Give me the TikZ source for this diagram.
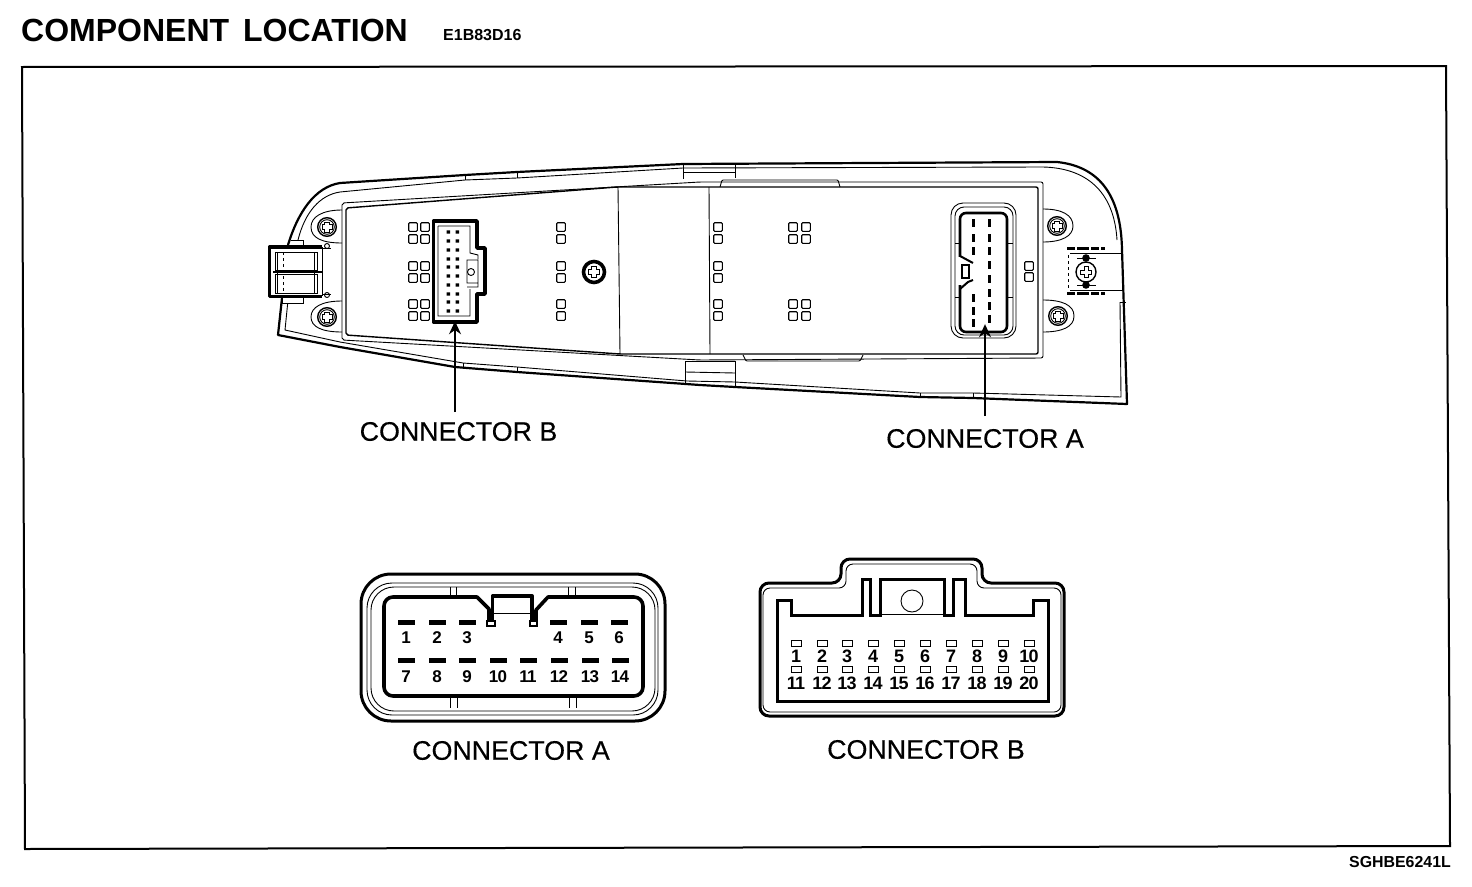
\documentclass[tikz,border=0pt]{standalone}
\usepackage{fontspec}
\setmainfont{Liberation Sans}
\newfontfamily\lblfont[FakeBold=0.35]{Liberation Sans}
\newfontfamily\numfont[LetterSpace=-4]{Liberation Sans}
\usetikzlibrary{arrows.meta}
\tikzset{
  x=1pt,y=-1pt,
  thinl/.style={line width=0.9pt,black},
  medl/.style={line width=1.4pt,black},
  thickl/.style={line width=2.8pt,black},
  heavy/.style={line width=3.4pt,black,line join=round},
  lbl/.style={inner sep=0pt,font=\fontsize{26.8}{28}\selectfont\lblfont},
  numa/.style={inner sep=0pt,font=\fontsize{17}{18}\selectfont\numfont\bfseries},
  numb/.style={inner sep=0pt,font=\fontsize{18}{18}\selectfont\numfont\bfseries},
  lead/.style={line width=1.7pt,black,-{Stealth[length=13pt,width=12pt]}},
}
\newcommand{\screwmark}[2]{%
  \draw[medl] (#1,#2) circle[radius=9.3pt];
  \draw[thinl] (#1,#2) circle[radius=7.3pt];
  \draw[line width=6pt] (#1-5.5,#2) -- (#1+5.5,#2) (#1,#2-5.5) -- (#1,#2+5.5);
  \draw[line width=4pt,white] (#1-4.5,#2) -- (#1+4.5,#2) (#1,#2-4.5) -- (#1,#2+4.5);
}
\newcommand{\sq}[2]{\draw[line width=1.1pt,rounded corners=1pt] (#1-4.3,#2-4.3) rectangle (#1+4.3,#2+4.3);}
\begin{document}
\begin{tikzpicture}
\useasboundingbox (0,0) rectangle (1472,886);
\fill[white] (0,0) rectangle (1472,886);
% heading
\node[inner sep=0pt,anchor=west,font=\fontsize{32}{32}\selectfont\bfseries] (title) at (21,30) {COMPONENT\hspace{5pt} LOCATION};
\node[inner sep=0pt,anchor=west,font=\fontsize{16}{16}\selectfont\bfseries] (code) at (443,35) {E1B83D16};
\node[inner sep=0pt,anchor=east,font=\fontsize{15.9}{16}\selectfont\bfseries] (fig) at (1451,862) {SGHBE6241L};
% frame
\draw[line width=2pt,line join=miter] (22,67) -- (1446,66) -- (1450,846) -- (25,849) -- cycle;

% --- housing outer
\draw[line width=2.2pt,black,line join=round]
  (288,245) .. controls (298,212) and (315,187) .. (340,183)
  -- (465,175) -- (517,172) -- (683,164) -- (1057,162)
  .. controls (1095,166) and (1121,190) .. (1122,250)
  -- (1127,404) -- (973,398) -- (920,397) -- (735,387) -- (700,385) -- (517,372) -- (455,367) -- (340,347) -- (278,335) -- (282,298);
% housing inner line
\draw[thinl]
  (298,240) .. controls (305,212) and (320,195) .. (340,192)
  -- (465,180) -- (517,178) -- (683,168) -- (1043,167)
  .. controls (1085,168) and (1114,190) .. (1117,240);
\draw[thinl] (1120,302) -- (1121,397) -- (973,393) -- (920,393) -- (735,382) -- (687,381) -- (517,367) -- (463,363) -- (340,342) -- (285,330) -- (288,300);
\draw[thinl] (1120,302) -- (1126,302);
\draw[thinl] (973,393) -- (973,398) (920,393) -- (920,397);
% tabs
\draw[thinl] (465,175) -- (465,180) (517,172) -- (517,178);
\draw[thinl] (683,164) -- (683,179) (735,163) -- (735,178);
\draw[thinl] (683,172) -- (735,172);
\draw[thinl] (463,363) -- (463,367) (517,367) -- (517,372);
\draw[thinl] (685,361) -- (735,361) -- (735,386);
\draw[thinl] (685,361) -- (685,384);
\draw[thinl] (685,372) -- (735,373);
% plate outer & inner
\draw[thinl,rounded corners=2pt] (342,203) -- (700,182) -- (1043,182) -- (1043,358) -- (700,360) -- (342,340) -- cycle;
\draw[medl,rounded corners=2pt] (346,208) -- (617,187) -- (1038,187) -- (1038,354) -- (620,354) -- (346,335) -- cycle;
\draw[thinl] (618,187) -- (620,354) (709,187) -- (710,354);
% slots
\draw[thinl,rounded corners=1pt] (720,187) -- (722,180) -- (838,180) -- (840,187);
\draw[thinl,rounded corners=1pt] (743,355) -- (746,361) -- (860,361) -- (863,355);
% screw bosses
\draw[thinl] (342,210) .. controls (322,210) and (311,217) .. (311,227) .. controls (311,238) and (322,243) .. (342,243);
\draw[thinl] (342,301) .. controls (322,301) and (311,307) .. (311,317) .. controls (311,327) and (322,332) .. (342,332);
\draw[thinl] (1043,209) .. controls (1062,209) and (1073,215) .. (1073,226) .. controls (1073,236) and (1062,242) .. (1043,242);
\draw[thinl] (1043,300) .. controls (1062,300) and (1074,305) .. (1074,316) .. controls (1074,327) and (1062,332) .. (1043,332);
\screwmark{327}{227}
\screwmark{327}{317}
\screwmark{1057}{226}
\screwmark{1058}{316}
\draw[line width=3.6pt] (594,272) circle[radius=10.5pt];
\draw[line width=6.5pt] (588,272) -- (600,272) (594,266) -- (594,278);
\draw[line width=4pt,white] (589,272) -- (599,272) (594,267) -- (594,277);
% left clip
\draw[thinl,fill=white] (282,298) -- (282,303) -- (303,303) -- (303,297);
\draw[thinl] (291,240) -- (303,240) -- (303,246);
\draw[heavy,fill=white] (322,247) -- (269.5,247) -- (269.5,296.5) -- (322,296.5);
\draw[thinl] (322,247) -- (322,296);
\draw[thinl] (275,252) rectangle (317,270);
\draw[thinl] (275,274) rectangle (317,293);
\draw[line width=1.4pt] (273,272) -- (322,272);
\draw[thinl,dashed] (283,252) -- (283,293);
\draw[thinl] (277,252) -- (277,293) (314,252) -- (314,293);
\draw[thinl] (322,248) -- (331,248) (322,294) -- (331,294);
\draw[thinl] (327,246) circle[radius=2.5pt] (327,295) circle[radius=2.5pt];
% right bracket
\draw[thinl] (1070,253) -- (1122,253) -- (1122,290) -- (1070,290);
\draw[line width=3pt,dash pattern=on 8pt off 2pt on 12pt off 2pt] (1067,248) -- (1105,248) (1067,293) -- (1105,293);
\draw[thinl,dashed] (1068,255) -- (1068,290);
\draw[medl] (1086,272) circle[radius=10pt];
\draw[thinl] (1077,258) -- (1096,258) (1077,285) -- (1096,285);
\fill (1086,258) circle[radius=3.8pt] (1086,285) circle[radius=3.8pt];
\draw[line width=5pt] (1080,272) -- (1092,272) (1086,266) -- (1086,278);
\draw[line width=3pt,white] (1081,272) -- (1091,272) (1086,267) -- (1086,277);
% square groups
\foreach \yy in {227,239,266,278,304,316} {\sq{413}{\yy}\sq{425}{\yy}\sq{561}{\yy}\sq{718}{\yy}}
\foreach \yy in {227,239,304,316} {\sq{793}{\yy}\sq{806}{\yy}}
\sq{1029}{266}\sq{1029}{277}
% connector B in housing
\node[inner sep=0pt,minimum size=0pt] (hubB) at (455,321) {};
\draw[heavy] (433.5,221) -- (477,221) -- (477,248) -- (485,248) -- (485,294) -- (477,294) -- (477,322) -- (433.5,322) -- cycle;
\draw[thinl] (438,226) -- (470,226) -- (470,253) -- (478,255) -- (478,259) (467,260) -- (478,260) -- (478,283) -- (467,283) -- cycle
  (467,260) (470,289) -- (470,316) -- (438,316) -- (438,226) (467,287) -- (478,287) -- (478,283);
\draw[thinl] (471,272) circle[radius=3.5pt];
\foreach \yy in {232,241,250,259,267,276,285,294,302,311} {\fill (446.5,\yy-1.7) rectangle (450,\yy+1.7) (455.5,\yy-1.7) rectangle (459,\yy+1.7);}
% connector A in housing
\node[inner sep=0pt,minimum size=0pt] (hubA) at (985,324) {};
\draw[thinl,rounded corners=12pt] (951,203) rectangle (1016,338);
\draw[thinl,rounded corners=9pt] (955,207) rectangle (1013,335);
\draw[line width=2.6pt,black,rounded corners=6pt] (960,213) -- (1007,213) -- (1007,332) -- (960,332) -- cycle;
\draw[fill=white,line width=2pt,draw=white] (958,258) rectangle (962,284);
\draw[line width=2pt] (960,256) -- (973,263) (960,289) -- (968,282) -- (973,280);
\draw[line width=1.6pt] (962,265) rectangle (969,278);
\draw[thinl] (955,243) -- (960,243) (1008,243) -- (1013,243) (955,297) -- (960,297) (1008,297) -- (1013,297);
\foreach \yy in {223,238,251,298,311,323} {\fill (971.5,\yy-4) rectangle (974.5,\yy+4);}
\foreach \yy in {223,238,251,265,279,293,306,319} {\fill (987.5,\yy-4) rectangle (990.5,\yy+4);}
% leaders
\coordinate (startB) at (455,412);
\coordinate (startA) at (985,416);
\draw[lead] (startB) -- (hubB);
\draw[lead] (startA) -- (hubA);
\node[lbl] (labB) at (458.5,431.5) {CONNECTOR B};
\node[lbl] (labA) at (985,438.5) {CONNECTOR A};

% --- big connector A
\draw[line width=3pt,rounded corners=30pt] (361,574) rectangle (665,721);
\draw[thinl,rounded corners=25pt] (367,583) rectangle (658,715);
\draw[thinl,rounded corners=23pt] (371,587) rectangle (655,711);
\draw[thinl] (450,587) -- (450,597) (456,587) -- (456,597) (568,587) -- (568,597) (575,587) -- (575,597)
  (450,697) -- (450,708) (457,697) -- (457,708) (569,697) -- (569,708) (576,697) -- (576,708);
\draw[line width=3.6pt,line join=round] (489,622) -- (489,609) -- (477,597) [rounded corners=9pt] -- (384,597) -- (384,696) -- (643,696) -- (643,597) [sharp corners] -- (548,597) -- (536,610) -- (536,622);
\draw[line width=3.4pt,line join=round] (492.5,621) -- (492.5,596) -- (532,596) -- (532,621);
\draw[thinl] (494,613) -- (531,613);
\draw[line width=1.4pt,fill=white] (487,621) rectangle (495,626);
\draw[line width=1.4pt,fill=white] (530,621) rectangle (537,626);
\foreach \n/\xx in {1/406,2/437,3/467,4/558,5/589,6/619} {
  \fill (\xx-8.5,620) rectangle (\xx+8.5,624.5);
  \node[numa] (acon\n) at (\xx,638) {\n};
}
\foreach \n/\xx in {7/406,8/437,9/467,10/498,11/528,12/559,13/590,14/620} {
  \fill (\xx-8.5,658) rectangle (\xx+8.5,662.5);
  \node[numa] (acon\n) at (\xx,677) {\n};
}
\node[lbl] (capA) at (511,750.5) {CONNECTOR A};

% --- big connector B
\draw[line width=3pt,line join=round,rounded corners=9pt] (760,716) -- (1064,716) -- (1064,583) -- (982,583) -- (982,559) -- (841,559) -- (841,583) -- (760,583) -- cycle;
\draw[thinl,rounded corners=7pt] (763,712) -- (1061,712) -- (1061,588) -- (977,588) -- (977,564) -- (846,564) -- (846,588) -- (763,588) -- cycle;
\draw[line width=3pt,line join=miter] (777,600) -- (791,600) -- (791,615) -- (862,615) -- (862,579) -- (870,579) -- (870,615) -- (880,615) -- (880,579) -- (944,579) -- (944,615) -- (953,615) -- (953,579) -- (965,579) -- (965,615) -- (1033,615) -- (1033,600) -- (1048,600) -- (1048,701) -- (777,701) -- cycle;
\draw[thinl] (880,614) -- (944,614);
\draw[thinl] (912,601) circle[radius=11pt];
\foreach \n/\xx in {1/796,2/822,3/847,4/873,5/899,6/925,7/951,8/977,9/1003,10/1029} {
  \draw[line width=1pt] (\xx-5,640) rectangle (\xx+5,646);
  \node[numb] (bcon\n) at (\xx,656.5) {\n};
}
\foreach \n/\xx in {11/796,12/822,13/847,14/873,15/899,16/925,17/951,18/977,19/1003,20/1029} {
  \draw[line width=1pt] (\xx-5,666) rectangle (\xx+5,672);
  \node[numb] (bcon\n) at (\xx,683) {\n};
}
\node[lbl] (capB) at (926,749.5) {CONNECTOR B};
\end{tikzpicture}
\end{document}
